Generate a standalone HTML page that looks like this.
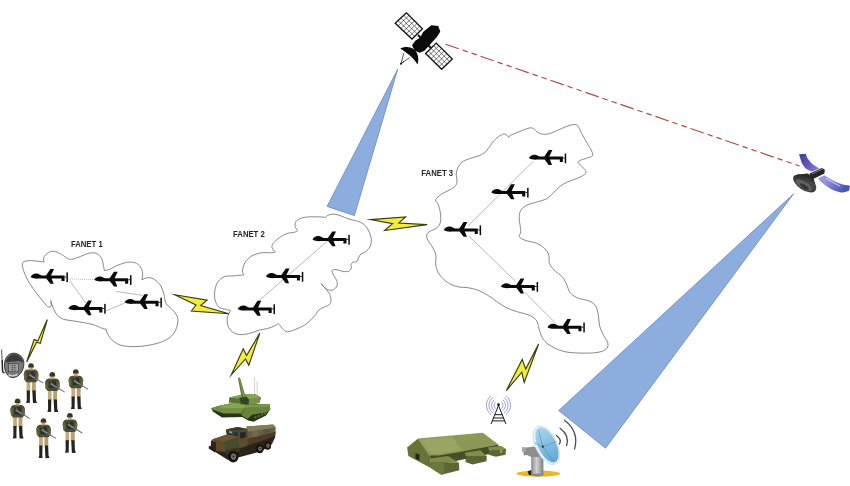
<!DOCTYPE html>
<html><head><meta charset="utf-8"><title>FANET</title>
<style>html,body{margin:0;padding:0;background:#fff}svg{display:block}text{font-family:"Liberation Sans",sans-serif;font-weight:bold;fill:#262626}</style>
</head><body>
<svg width="850" height="486" viewBox="0 0 850 486">
<rect width="850" height="486" fill="#fff"/>
<defs><g id="uav"><path d="M0,0C1,-2.3 3.5,-3.6 6,-3.4C8.5,-3.2 9.5,-1.6 11.2,-1.5L15.4,-1.5L19.8,-8.1L23.5,-8.1L20.4,-1.5L34,-1.5L34,4L30.9,4L30.9,1.5L21,1.5L23.1,6.8L19.8,6.8L15.7,1.5L9,1.5C6,1.9 2,1.6 0,0Z"/><rect x="34" y="-0.4" width="2" height="0.8"/><rect x="35.8" y="-4.6" width="1.5" height="9.8"/></g></defs>

<g fill="#8eaddf" stroke="#6a88ba" stroke-width="0.8"><polygon points="397.7,69.3 327,206.4 354.4,215.6"/><polygon points="793.6,193.8 558.7,410.5 605.5,448.2"/></g>
<line x1="445.5" y1="44.2" x2="799.6" y2="166" stroke="#b04a46" stroke-width="1.2" stroke-dasharray="14 4 5.5 4 5.5 4"/>
<g fill="#fff" stroke="#6a6a6a" stroke-width="0.8">
<path d="M44.2,262.0C44.1,261.2 43.1,259.0 43.8,257.5C44.4,256.0 46.4,253.8 48.1,252.8C49.8,251.8 52.0,251.0 54.2,251.3C56.4,251.6 58.8,253.1 61.4,254.4C64.0,255.7 67.0,258.8 69.7,259.3C72.5,259.8 74.8,258.5 77.9,257.5C81.0,256.5 85.1,254.1 88.2,253.4C91.3,252.7 94.2,252.6 96.4,253.4C98.6,254.2 100.4,256.3 101.6,258.5C102.8,260.7 103.1,264.7 103.6,266.7C104.1,268.7 104.3,270.0 104.5,270.6C105.3,270.4 107.2,270.3 109.4,269.4C111.6,268.5 114.5,266.5 117.6,265.3C120.7,264.1 124.8,262.6 127.9,262.2C131.0,261.8 134.0,262.2 136.2,263.2C138.4,264.2 140.2,266.5 141.3,268.4C142.4,270.3 142.6,272.6 142.7,274.5C142.8,276.4 142.0,278.8 141.9,279.7C143.0,279.4 146.4,277.6 148.5,277.6C150.6,277.6 152.6,278.3 154.7,279.7C156.8,281.1 159.3,283.5 160.8,285.9C162.3,288.3 163.0,291.2 163.9,294.1C164.8,297.0 164.6,300.8 166.0,303.4C167.4,306.0 170.3,307.3 172.2,309.5C174.1,311.7 176.5,314.1 177.3,316.7C178.2,319.3 178.0,322.1 177.3,325.0C176.6,327.9 175.2,331.6 173.2,334.2C171.1,336.8 168.4,338.7 165.0,340.4C161.6,342.1 157.4,343.5 152.6,344.5C147.8,345.5 141.3,346.4 136.2,346.6C131.0,346.8 125.7,346.5 121.7,345.5C117.8,344.5 114.9,342.4 112.5,340.4C110.1,338.3 108.3,335.1 107.3,333.2C106.3,331.3 106.5,329.8 106.3,329.1C105.7,329.0 104.9,329.3 102.6,328.5C100.3,327.7 96.8,325.6 92.3,324.4C87.8,323.2 80.6,322.2 75.8,321.3C71.0,320.4 66.6,320.2 63.5,319.2C60.4,318.2 59.0,317.0 57.3,315.1C55.6,313.2 54.3,310.3 53.2,307.9C52.1,305.5 51.1,301.9 50.7,300.7C50.8,301.6 51.6,304.8 51.2,305.8C50.8,306.8 49.1,307.2 48.1,306.9C47.1,306.6 46.9,306.0 45.0,303.8C43.1,301.6 39.3,296.9 36.7,293.5C34.1,290.1 31.6,286.6 29.5,283.2C27.4,279.8 25.6,275.9 24.4,272.9C23.2,269.9 22.4,266.9 22.3,265.0C22.2,263.1 22.6,262.5 24.0,261.8C25.4,261.1 27.8,260.6 30.6,260.6C33.4,260.6 38.6,261.4 40.9,261.6C43.2,261.8 43.7,261.9 44.2,262.0Z"/>
<path d="M243.8,274.9C243.6,274.2 242.3,272.9 242.5,270.9C242.7,268.9 243.4,265.2 244.9,262.7C246.4,260.2 248.8,257.8 251.5,256.1C254.2,254.5 258.1,253.4 261.4,252.8C264.7,252.2 269.0,252.9 271.3,252.8C273.6,252.7 274.7,252.1 275.4,252.0C274.8,251.3 272.5,249.2 272.1,247.8C271.7,246.4 272.0,245.2 273.0,243.7C274.0,242.2 275.7,240.5 277.9,238.8C280.1,237.2 283.4,234.9 286.1,233.8C288.9,232.7 292.5,232.7 294.4,232.2C296.3,231.7 297.1,231.2 297.7,231.0C297.3,230.2 295.5,228.0 295.2,226.4C294.9,224.8 295.0,222.9 296.0,221.5C297.0,220.1 298.8,219.0 301.0,218.2C303.2,217.4 306.2,217.1 309.2,216.9C312.2,216.7 316.4,216.8 319.1,216.9C321.9,217.0 324.6,217.3 325.7,217.4C326.1,217.0 326.7,215.8 328.1,215.2C329.5,214.6 331.8,214.0 333.9,214.1C336.0,214.2 338.0,214.9 340.5,215.7C343.0,216.5 345.7,218.0 348.7,219.0C351.7,220.0 355.9,220.4 358.6,221.5C361.4,222.6 363.4,223.8 365.2,225.6C367.0,227.4 368.3,229.9 369.3,232.2C370.3,234.5 371.2,237.2 371.3,239.6C371.4,242.0 370.9,244.6 370.0,246.6C369.1,248.6 367.3,250.3 365.8,251.5C364.3,252.7 362.1,252.9 360.9,254.0C359.7,255.1 359.1,256.9 358.4,258.1C357.7,259.3 357.8,260.7 356.8,261.4C355.9,262.1 353.4,262.1 352.7,262.2C352.4,262.6 351.2,263.7 351.0,264.7C350.8,265.7 351.8,266.9 351.4,268.0C351.0,269.1 350.0,270.8 348.6,271.3C347.2,271.9 344.9,271.6 342.8,271.3C340.7,271.0 338.0,269.7 336.2,269.6C334.4,269.5 332.5,269.5 332.1,270.5C331.7,271.5 332.9,273.6 333.7,275.4C334.5,277.2 336.5,279.3 337.0,281.2C337.5,283.1 337.3,285.4 336.5,286.9C335.7,288.4 333.7,289.8 332.1,290.2C330.6,290.6 328.7,290.1 327.2,289.4C325.7,288.7 324.0,287.1 323.0,286.1C322.0,285.1 321.7,284.0 321.4,283.6C321.9,284.3 323.3,285.9 324.7,287.7C326.1,289.5 328.6,292.1 329.6,294.3C330.6,296.5 331.0,299.1 330.9,300.9C330.8,302.7 330.1,303.9 328.8,305.0C327.5,306.1 324.8,306.5 323.0,307.5C321.2,308.5 319.5,309.4 318.1,310.8C316.7,312.2 316.6,313.7 314.5,316.0C312.4,318.3 308.7,322.2 305.6,324.4C302.5,326.6 298.7,328.1 295.7,329.3C292.7,330.5 289.6,331.9 287.4,331.8C285.2,331.7 284.0,329.9 282.5,328.5C281.0,327.1 279.1,324.3 278.4,323.5C277.7,323.9 276.1,325.2 274.3,326.0C272.5,326.8 270.2,327.8 267.7,328.5C265.2,329.2 262.4,329.3 259.4,330.1C256.4,330.9 252.8,332.6 249.5,333.4C246.2,334.1 242.6,334.9 239.7,334.6C236.8,334.3 234.1,333.2 232.2,331.8C230.3,330.4 228.9,328.3 228.1,326.0C227.3,323.7 226.9,320.4 227.3,317.8C227.7,315.2 230.1,311.6 230.6,310.4C229.9,310.2 228.4,310.1 226.5,309.5C224.6,308.9 221.0,308.7 219.1,307.1C217.2,305.5 215.7,302.6 215.0,299.7C214.3,296.8 214.5,292.8 215.0,289.8C215.5,286.8 216.6,283.7 218.2,281.5C219.8,279.3 222.1,277.6 224.8,276.6C227.6,275.7 231.5,276.1 234.7,275.8C237.9,275.5 242.3,275.0 243.8,274.9Z"/>
<path d="M509.0,137.3C509.1,137.0 508.7,136.4 509.8,135.7C510.9,135.0 513.3,134.2 515.6,133.2C517.9,132.2 521.5,130.8 523.8,129.9C526.1,129.0 528.0,128.1 529.6,127.9C531.2,127.7 532.5,127.9 533.7,128.6C534.9,129.3 535.6,131.0 537.0,131.9C538.4,132.8 540.1,133.7 541.9,134.0C543.7,134.3 545.5,134.5 548.0,134.0C550.5,133.5 553.5,132.1 556.6,130.8C559.7,129.5 563.8,127.3 566.8,126.3C569.8,125.2 572.8,124.5 574.7,124.5C576.6,124.5 577.0,124.9 578.1,126.3C579.2,127.7 580.0,130.3 581.5,133.1C583.0,135.9 585.5,140.3 587.2,143.3C588.9,146.3 590.8,149.1 591.7,151.2C592.6,153.3 593.1,154.7 592.4,155.8C591.6,156.9 589.2,157.2 587.2,158.0C585.2,158.8 581.9,159.6 580.4,160.3C578.9,161.1 577.7,161.4 578.1,162.5C578.5,163.6 581.3,165.6 582.6,167.1C583.9,168.6 585.8,170.3 586.0,171.6C586.2,172.9 585.3,173.9 583.8,175.0C582.3,176.1 579.6,177.3 577.0,178.4C574.4,179.5 570.7,180.5 567.9,181.8C565.1,183.1 562.5,184.4 560.0,186.3C557.5,188.2 555.5,191.0 553.2,193.1C550.9,195.2 549.2,197.3 546.4,198.8C543.6,200.3 539.6,201.1 536.2,202.2C532.8,203.3 528.6,204.1 526.0,205.6C523.4,207.1 521.5,209.1 520.4,211.2C519.3,213.3 519.2,215.4 519.2,218.0C519.2,220.6 520.0,224.4 520.3,226.7C520.5,229.0 520.9,230.3 520.7,232.0C520.6,233.7 518.7,235.3 519.4,236.7C520.1,238.1 521.9,239.1 524.8,240.2C527.7,241.3 533.5,242.0 536.8,243.4C540.1,244.8 542.8,246.7 544.8,248.7C546.8,250.7 548.1,253.0 548.9,255.4C549.7,257.9 548.5,260.9 549.4,263.4C550.3,265.8 552.1,267.9 554.2,270.1C556.3,272.3 560.2,274.6 562.2,276.8C564.2,279.0 564.9,280.8 566.2,283.5C567.6,286.2 568.3,290.4 570.3,292.9C572.3,295.3 575.2,296.9 578.3,298.2C581.4,299.5 586.1,299.6 589.0,300.9C591.9,302.2 594.1,303.8 595.7,306.2C597.3,308.6 597.7,312.2 598.4,315.6C599.1,319.0 598.8,323.0 599.7,326.3C600.6,329.6 602.4,333.0 603.7,335.7C605.0,338.4 607.2,340.2 607.7,342.4C608.2,344.6 608.2,347.3 606.4,349.0C604.6,350.7 601.2,351.8 597.0,352.5C592.8,353.2 586.4,353.2 581.0,353.1C575.6,353.0 569.8,352.8 564.9,351.7C560.0,350.6 555.1,348.4 551.5,346.4C547.9,344.4 545.5,342.4 543.5,339.7C541.5,337.0 540.6,333.4 539.5,330.3C538.4,327.2 538.4,323.4 536.8,321.0C535.2,318.6 533.4,317.2 530.1,315.6C526.8,314.0 520.8,312.9 516.8,311.6C512.8,310.3 509.5,309.3 506.1,307.6C502.8,305.9 499.3,303.3 496.7,301.5C494.1,299.7 492.5,298.3 490.5,297.0C488.5,295.7 486.6,294.6 484.5,293.5C482.4,292.4 480.3,291.1 477.7,290.1C475.1,289.2 472.1,288.4 468.7,287.8C465.3,287.2 461.0,287.6 457.4,286.7C453.8,285.8 450.2,284.3 447.2,282.2C444.2,280.1 441.1,277.0 439.2,274.2C437.3,271.4 436.4,268.4 435.8,265.2C435.2,262.0 436.4,258.0 435.8,255.0C435.2,252.0 433.8,249.5 432.5,247.1C431.2,244.7 428.8,242.4 427.9,240.3C426.9,238.2 426.4,236.1 426.8,234.6C427.2,233.1 428.5,232.3 430.2,231.2C431.9,230.1 435.3,229.3 437.0,227.8C438.7,226.3 439.8,224.6 440.4,222.2C441.0,219.8 440.8,216.1 440.4,213.1C440.0,210.1 438.9,206.3 438.1,204.1C437.3,201.9 435.1,201.7 435.7,200.0C436.2,198.3 439.1,195.8 441.4,194.1C443.7,192.4 447.4,191.4 449.7,190.0C452.0,188.6 454.2,187.4 455.4,185.9C456.6,184.4 457.0,182.9 457.1,181.0C457.2,179.1 456.1,176.6 456.2,174.4C456.3,172.2 456.9,169.9 457.9,167.8C458.9,165.7 460.1,163.5 462.0,162.0C463.9,160.5 466.8,159.7 469.4,158.7C472.0,157.7 475.2,157.1 477.7,156.2C480.2,155.2 482.4,154.5 484.3,153.0C486.2,151.5 487.6,149.3 489.2,147.2C490.8,145.1 492.3,142.5 494.1,140.6C495.9,138.7 498.1,136.8 499.9,135.7C501.7,134.6 503.3,133.7 504.8,134.0C506.3,134.3 508.3,136.8 509.0,137.3Z"/>
</g>
<g stroke="#8a8a8a" stroke-width="0.6" fill="none">
<line x1="67.9" y1="278.9" x2="94.2" y2="279.6" stroke-dasharray="1 1"/>
<line x1="70" y1="281" x2="85.9" y2="303.1"/>
<line x1="106" y1="310.9" x2="124.7" y2="303.1"/>
<line x1="116.3" y1="291.5" x2="142.8" y2="295.4"/>
<line x1="257.5" y1="302" x2="327.5" y2="241"/>
<line x1="468" y1="226" x2="533" y2="161.5"/>
<line x1="468.7" y1="235.8" x2="515.1" y2="281"/>
<line x1="525" y1="292.5" x2="555.8" y2="323.4"/>
</g>
<g fill="#0a0a0a">
<use href="#uav" x="30.6" y="277"/>
<use href="#uav" x="94.2" y="279.8"/>
<use href="#uav" x="68.4" y="308.5"/>
<use href="#uav" x="124.6" y="302.3"/>
<use href="#uav" x="312.5" y="239.5"/>
<use href="#uav" x="266" y="276.5"/>
<use href="#uav" x="237.7" y="308.9"/>
<use href="#uav" x="528.9" y="158.1"/>
<use href="#uav" x="491.3" y="192.4"/>
<use href="#uav" x="443.8" y="230"/>
<use href="#uav" x="500.8" y="286.6"/>
<use href="#uav" x="547.5" y="327.2"/>
</g>
<g fill="#f3ec3e" stroke="#3a3a0e" stroke-width="1.15" stroke-linejoin="miter" stroke-miterlimit="8">
<polygon points="47.3,319.6 40.3,343.3 36.6,342.3 26.7,361.9 34.1,339.6 37.8,340.9"/>
<polygon points="174.7,294.8 207.1,300.2 200.6,305.5 228.9,313.8 191.4,311.0 196.0,305.0"/>
<polygon points="370.4,219.6 405.6,216.9 398.8,223.1 427.2,224.6 384.6,230.5 392.6,223.6"/>
<polygon points="259.8,333.1 248.8,365.2 245.5,358.9 231.3,374.8 243.2,348.8 246.6,355.5"/>
<polygon points="538.6,344.0 524.2,382.5 521.8,372.2 506.3,390.7 522.2,359.4 525.7,369.1"/>
</g>
<filter id="gs" x="-5%" y="-5%" width="110%" height="110%"><feColorMatrix type="saturate" values="0"/></filter><g filter="url(#gs)">
<text x="70.9" y="246.6" font-size="8.2" textLength="31.8" lengthAdjust="spacingAndGlyphs">FANET 1</text>
<text x="233" y="237.1" font-size="8.2" textLength="31.8" lengthAdjust="spacingAndGlyphs">FANET 2</text>
<text x="421.3" y="175.5" font-size="8.2" textLength="31.8" lengthAdjust="spacingAndGlyphs">FANET 3</text></g>
<g id="sat1">
<line x1="418" y1="35" x2="431" y2="48" stroke="#111" stroke-width="2"/>
<polygon points="406.5,12.8 395.2,23.2 412.0,39.0 422.4,28.7" fill="#fff" stroke="#111" stroke-width="1.3" stroke-linejoin="miter"/><g stroke="#111" stroke-width="0.55"><line x1="403.7" y1="15.4" x2="419.8" y2="31.3"/><line x1="400.9" y1="18.0" x2="417.2" y2="33.9"/><line x1="398.0" y1="20.6" x2="414.6" y2="36.4"/><line x1="409.1" y1="15.4" x2="398.0" y2="25.8"/><line x1="411.8" y1="18.1" x2="400.8" y2="28.5"/><line x1="414.4" y1="20.8" x2="403.6" y2="31.1"/><line x1="417.1" y1="23.4" x2="406.4" y2="33.7"/><line x1="419.8" y1="26.1" x2="409.2" y2="36.4"/></g>
<polygon points="436.2,43.1 425.6,53.5 441.7,69.3 452.3,59.0" fill="#fff" stroke="#111" stroke-width="1.3" stroke-linejoin="miter"/><g stroke="#111" stroke-width="0.55"><line x1="433.6" y1="45.7" x2="449.6" y2="61.6"/><line x1="430.9" y1="48.3" x2="447.0" y2="64.2"/><line x1="428.2" y1="50.9" x2="444.4" y2="66.7"/><line x1="438.9" y1="45.8" x2="428.3" y2="56.1"/><line x1="441.6" y1="48.4" x2="431.0" y2="58.8"/><line x1="444.2" y1="51.0" x2="433.6" y2="61.4"/><line x1="446.9" y1="53.7" x2="436.3" y2="64.0"/><line x1="449.6" y1="56.4" x2="439.0" y2="66.7"/></g>
<polygon fill="#0b0b0b" points="423.1,32.1 431.3,25.2 438.2,25.9 440.3,31.4 436.9,36.9 430.0,44.5 424.4,50.7 419.6,52.8 414.8,50.7 412.0,45.2 415.5,40.4 420.3,37.6"/>
<path fill="#0b0b0b" d="M400.3,48.6C405,46 411.5,46.8 415,50.3C418.6,54 419,60 417.6,64.5C415.5,61 412.5,57.8 409.6,55.3C406.6,52.8 403.5,50.5 400.3,48.6Z"/>
<path stroke="#111" stroke-width="0.7" fill="none" d="M401,63.8L403.8,53M401,63.8L409.5,57.6M401,63.8L404,61"/><circle cx="401" cy="63.8" r="1" fill="#111"/>
</g>
<defs><linearGradient id="pg1" x1="0" y1="0" x2="1" y2="1"><stop offset="0" stop-color="#3a3f9c"/><stop offset="0.6" stop-color="#6a5cc0"/><stop offset="1" stop-color="#9a80d8"/></linearGradient><linearGradient id="pg2" x1="0" y1="0" x2="1" y2="0.4"><stop offset="0" stop-color="#b0a6e6"/><stop offset="0.45" stop-color="#8b86d6"/><stop offset="1" stop-color="#4656b4"/></linearGradient>
<linearGradient id="dg" x1="0" y1="0" x2="1" y2="1"><stop offset="0" stop-color="#1e1e1e"/><stop offset="0.5" stop-color="#4a4a4a"/><stop offset="1" stop-color="#2a2a2a"/></linearGradient></defs>
<g id="sat2">
<path fill="url(#pg1)" d="M799,154.3L805.8,153.7C806.3,156 807,157.8 808.3,159.3C809.8,161.5 811.3,163.3 813.2,164.8L819.4,168.5L812,171.6C809.6,170.9 807.6,169.9 805.8,168.5C804,166.7 802.5,164.6 801.5,162.3Z"/>
<path fill="url(#pg2)" d="M817.5,178.4L824.3,175.3C827.5,177.3 830.8,179.2 834.2,180.9C837,182.3 839.8,183.6 842.8,184.6L850,185.8L849,190.7C846.4,191.6 843.8,192.4 841,192.6C837.8,191.8 834.7,190.8 831.7,189.5C828.2,187.5 825,185.2 821.9,182.7Z"/>
<path d="M826,178.2L840,186.2" stroke="#e8e4fa" stroke-width="1.1" opacity="0.7" fill="none"/>
<polygon fill="#2b2b2b" points="797.0,174.5 808.0,173.6 813.5,178.5 816.5,188.0"/>
<g transform="rotate(33 804.6 183.4)"><ellipse cx="804.6" cy="183.4" rx="13" ry="6.6" fill="url(#dg)"/><ellipse cx="805.2" cy="185.2" rx="9.5" ry="3.6" fill="#777" opacity="0.55"/><ellipse cx="806" cy="186.2" rx="5" ry="1.8" fill="#222" opacity="0.7"/></g>
<polygon fill="#262626" points="809.5,173.5 821.9,167.9 824.9,169.8 824.3,173.5 813.2,179.0 810.1,177.2"/>
<line x1="811.5" y1="174" x2="822.5" y2="169" stroke="#8c8c8c" stroke-width="0.9"/>
</g>
<defs><g id="sol">
<rect x="-4.4" y="18" width="3.7" height="10" fill="#c2ab7c"/><rect x="0.9" y="18" width="3.9" height="10" fill="#b8a070"/>
<path d="M-4.3,27.3L-1,27.3L-1.2,37.5L-1,39.6L-4.9,39.8L-4.2,37Z" fill="#24241c"/><path d="M1.3,27.3L4.7,27.3L5,37L6,39.8L2,39.9L1.8,37Z" fill="#24241c"/>
<path d="M-3.6,6.4L3.8,6.4C6,6.8 7.3,8.6 7.4,11L7,16.5L5,19L-4.6,19L-6.6,16.5L-7.2,11C-7.2,8.6 -5.8,6.8 -3.6,6.4Z" fill="#4c4e31"/>
<path d="M-3,8.5L3.4,8.5L3.8,16L-3.2,16Z" fill="#2e3020"/>
<path d="M-7.2,11L-5,9L-4.6,16L-6.6,16.5Z" fill="#646840"/><path d="M7.4,11L5.2,9L5,16.5L7,16.5Z" fill="#646840"/>
<path d="M-3.4,7L-2.2,7L2.6,15L1.4,15Z" fill="#6b5a3c"/>
<path d="M-1.5,10.8L4.5,14.3L3.7,15.7L-2.3,12.2Z" fill="#7c83b0"/><path d="M4,14.2L12.6,19.6L12.1,20.4L3.6,15.4Z" fill="#6a6f80"/>
<rect x="-1.8" y="3.6" width="3.6" height="3.4" fill="#c79e7c"/>
<path d="M-2.8,3.2C-3,1 -1.6,0 0,0C1.6,0 3,1 2.8,3.2L2.9,4.3L-2.9,4.3Z" fill="#353b23"/>
</g></defs>
<use href="#sol" x="31" y="363.2"/>
<use href="#sol" x="52.3" y="372.1"/>
<use href="#sol" x="75.8" y="369.3"/>
<use href="#sol" x="17.6" y="398.6"/>
<use href="#sol" x="43.5" y="418.3"/>
<use href="#sol" x="69.9" y="413"/>
<g id="radio"><path d="M1.6,349.5L2.1,360" stroke="#222" stroke-width="0.8" fill="none"/><path d="M2.1,360L2.6,371C2.8,372.4 3.6,372.8 4.6,372.4" stroke="#222" stroke-width="1.5" fill="none"/>
<path d="M4.5,365C4.5,357 9,353 14,353.2C20,353.5 24,358 23.9,363.5C23.8,370 20,377 13,377.6C8,377.8 4.5,372 4.5,365Z" fill="#7a7a7a" stroke="#2a2a2a" stroke-width="0.9"/>
<path d="M5.6,362.5C7,356.5 11,354 14.5,354.2C19,354.5 22.5,358 22.9,363L19,361L9,362Z" fill="#3a3a3a"/>
<rect x="8.6" y="363.6" width="10" height="8.2" fill="#a4a4a4" stroke="#303030" stroke-width="0.6"/>
<path d="M10.5,365.5h6M10.5,367.7h6M10.5,369.8h6M12.3,364.2v7M14.8,364.2v7" stroke="#4a4a4a" stroke-width="0.5" fill="none"/>
<path d="M8.5,374.6C11,376.2 15,376.2 17.5,374.4" stroke="#dcdcdc" stroke-width="1.4" fill="none"/></g>
<g id="tank">
<line x1="254.3" y1="377" x2="254.6" y2="394" stroke="#8a8a8a" stroke-width="0.4"/><line x1="257" y1="381" x2="257.2" y2="395" stroke="#8a8a8a" stroke-width="0.4"/>
<polygon fill="#283416" points="211.2,408.2 218.6,405.9 230.0,403.5 269.5,404.2 270.3,409.3 266.1,415.6 253.6,421.8 248.0,420.6 242.3,416.9 222.0,417.4 212.9,411.6"/>
<polygon fill="#718f42" points="211.2,408.2 218.6,405.9 230.0,403.5 246.0,404.5 243.5,410.5 241.0,413.4 223.5,413.6 213.8,410.0"/>
<polygon fill="#86a552" points="218.6,405.9 230.0,403.5 246.0,404.5 244.5,408.0 222.0,408.3"/>
<polygon fill="#66853c" points="246.0,404.5 269.5,404.2 270.3,409.3 267.5,412.0 252.0,414.8 247.5,419.0 243.0,416.2 241.0,414.3 243.5,411.0"/>
<polygon fill="#7b9a4a" points="246.0,404.5 269.5,404.2 269.8,406.3 248.0,407.6 244.5,408.0"/>
<circle cx="255.5" cy="417.3" r="1.3" fill="#55683a"/>
<circle cx="258.8" cy="416" r="1.3" fill="#55683a"/>
<circle cx="262" cy="414.6" r="1.3" fill="#55683a"/>
<circle cx="265" cy="413.2" r="1.3" fill="#55683a"/>
<polygon fill="#587534" points="229.3,397.5 242.3,394.6 254.8,394.1 261.0,397.5 259.3,403.1 248.6,404.8 238.9,403.7 228.8,402.5"/>
<polygon fill="#87a554" points="229.3,397.5 242.3,394.6 254.8,394.1 261.0,397.5 249.5,399.3 238.5,398.6"/>
<polygon fill="#74924a" points="249.5,399.3 261.0,397.5 259.3,403.1 248.6,404.8"/>
<polygon fill="#34461d" points="239.2,397.8 246.3,396.4 248.8,399.2 248.6,404.6 241.0,403.8"/>
<polygon fill="#5a7636" points="237.9,378.0 240.0,377.5 245.4,396.3 241.6,397.4"/>
<polygon fill="#7b9a4a" points="238.6,377.9 239.6,377.7 244.6,396.5 243.2,396.9"/>
</g>
<g id="truck">
<polygon fill="#2a2419" points="209.0,446.7 214.0,444.0 246.0,440.0 275.5,431.0 275.2,437.0 272.0,444.0 262.0,451.0 240.0,457.0 228.0,460.0 214.9,451.8"/>
<polygon fill="#665d42" points="246.5,426.6 273.2,424.4 275.7,427.4 275.2,434.8 272.2,436.8 260.3,441.2 247.2,445.0"/>
<polygon fill="#857c5c" points="246.5,426.6 273.2,424.4 275.7,427.4 262.0,429.8 247.5,431.6"/>
<polygon fill="#4b3b28" points="247.3,438.5 275.3,432.0 275.2,434.8 272.2,436.8 260.3,441.2 247.2,445.0"/>
<polygon fill="#73694a" points="252.0,431.2 258.0,430.4 258.5,436.2 252.5,437.4"/>
<polygon fill="#59573a" points="263.0,429.8 269.0,428.8 269.3,433.6 263.5,435.0"/>
<polygon fill="#4d4a30" points="225.8,429.4 237.6,426.9 247.5,428.9 247.6,446.0 239.0,448.5 237.5,437.0 226.5,435.0"/>
<polygon fill="#3a3a28" points="225.8,429.4 237.6,426.9 247.5,428.9 238.0,430.8"/>
<polygon fill="#5b4c30" points="238.6,431.5 247.0,430.0 247.3,445.5 239.0,448.0"/>
<polygon fill="#22262a" points="240.0,432.6 245.8,431.4 245.8,437.2 240.2,438.5"/>
<polygon fill="#2d3236" points="227.2,430.6 232.6,431.4 232.8,435.6 227.6,434.8"/><polygon fill="#2d3236" points="233.8,431.6 238.0,432.2 238.2,436.6 234.0,435.9"/>
<polygon fill="#9aa3a8" points="229.0,431.0 231.8,431.5 231.9,433.5 229.2,433.0"/>
<polygon fill="#5e4b2c" points="212.4,439.3 226.2,434.8 238.5,437.0 239.0,448.5 228.0,452.5 216.0,451.0 211.0,447.5"/>
<polygon fill="#6f5632" points="212.4,439.3 226.2,434.8 238.5,437.0 224.0,441.8"/>
<polygon fill="#4a4a2c" points="224.0,441.8 238.5,437.0 239.0,448.5 226.0,452.8"/>
<polygon fill="#2b2418" points="210.9,440.2 215.9,442.5 216.0,451.0 211.0,447.8"/>
<polygon fill="#1d1912" points="208.8,446.0 215.2,450.0 215.0,452.6 208.8,448.6"/>
<polygon fill="#3a3322" points="225.5,450.5 238.5,447.2 240.5,451.0 226.0,455.0"/>
<ellipse cx="233.2" cy="456.6" rx="5.3" ry="5.9" fill="#17140f"/><ellipse cx="233.5" cy="456.6" rx="2.6" ry="3.1" fill="#7d766a"/><ellipse cx="233.5" cy="456.6" rx="1.1" ry="1.3" fill="#3a352c"/>
<ellipse cx="259.8" cy="448.7" rx="3.9" ry="4.5" fill="#17140f"/><ellipse cx="260.1" cy="448.7" rx="1.9" ry="2.3" fill="#7d766a"/><ellipse cx="260.1" cy="448.7" rx="0.8" ry="1.0" fill="#3a352c"/>
<ellipse cx="267.7" cy="445.7" rx="3.4" ry="4.1" fill="#17140f"/><ellipse cx="268.0" cy="445.7" rx="1.7" ry="2.1" fill="#7d766a"/><ellipse cx="268.0" cy="445.7" rx="0.7" ry="0.9" fill="#3a352c"/>
</g>
<g id="tent">
<polygon fill="#454f25" points="429.8,455.0 498.4,444.4 499.0,452.0 431.5,466.0"/>
<polygon fill="#65723a" points="407.1,447.6 418.1,438.6 429.8,455.4 431.7,468.4 408.4,456.1"/>
<polygon fill="#202611" points="415.5,453.0 419.4,454.5 419.4,460.5 415.5,458.6"/>
<polygon fill="#8c9856" points="418.1,438.6 482.8,432.8 498.4,444.4 489.3,446.4 472.5,449.6 458.2,452.2 438.8,455.4 429.8,455.4"/>
<polygon fill="#9aa565" points="421.0,439.6 452.0,436.7 462.0,450.3 436.0,454.2 430.5,453.5"/>
<polygon fill="#7f8c4a" points="430.3,458.6 447.9,456.1 458.9,462.5 431.0,462.8"/>
<polygon fill="#5b6832" points="431.0,462.5 458.9,462.5 459.3,470.3 441.4,474.8 431.5,468.6"/>
<polygon fill="#6c793c" points="431.0,462.5 444.0,462.6 444.5,473.8 441.4,474.8 431.5,468.6"/>
<polygon fill="#808d4b" points="464.7,452.8 480.2,450.2 486.7,456.1 466.0,456.1"/>
<polygon fill="#59662f" points="466.0,456.1 486.7,456.1 486.5,461.2 472.5,464.5 465.4,461.9"/>
<polygon fill="#7d8a48" points="488.0,447.6 500.9,445.7 506.1,448.9 489.3,450.9"/>
<polygon fill="#5a672f" points="489.3,450.9 506.1,448.9 505.5,454.8 495.8,456.7 488.7,454.8"/>
<rect x="500" y="450.5" width="2.2" height="2.2" fill="#a8ad86"/>
</g>
<g id="tower" fill="none">
<g stroke="#8f8acb" stroke-width="0.85">
<path d="M495.6,401.8A4.5,4.5 0 0 0 495.6,408.6"/><path d="M501.4,401.8A4.5,4.5 0 0 1 501.4,408.6"/>
<path d="M494.2,399.7A7,7 0 0 0 494.2,410.7"/><path d="M502.8,399.7A7,7 0 0 1 502.8,410.7"/>
<path d="M492.9,397.5A9.5,9.5 0 0 0 492.9,412.9"/><path d="M504.1,397.5A9.5,9.5 0 0 1 504.1,412.9"/>
<path d="M491.1,395.7A12,12 0 0 0 491.1,414.7"/><path d="M505.9,395.7A12,12 0 0 1 505.9,414.7"/>
</g>
<g stroke="#1c1c1c" stroke-width="1" stroke-linecap="round"><path d="M498.5,405.5L491.2,423.6M498.5,405.5L505.8,423.6M494.9,414.7L502.1,414.7M493.6,418L503.4,418M492.4,420.9L504.6,420.9"/></g><circle cx="498.5" cy="404.7" r="1.35" fill="#151515"/>
</g>
<defs><linearGradient id="dsh" x1="0" y1="0" x2="1" y2="0"><stop offset="0" stop-color="#a9d6ee"/><stop offset="1" stop-color="#5fa7d4"/></linearGradient>
<linearGradient id="ped" x1="0" y1="0" x2="1" y2="0"><stop offset="0" stop-color="#8a8a8a"/><stop offset="0.45" stop-color="#d2d2d2"/><stop offset="1" stop-color="#7c7c7c"/></linearGradient></defs>
<g id="dish">
<ellipse cx="538.3" cy="473.6" rx="22" ry="3.1" fill="#f0b323"/>
<rect x="531.2" y="455" width="12.2" height="20" fill="url(#ped)"/><ellipse cx="537.3" cy="475" rx="6.1" ry="1.4" fill="#8a8a8a"/>
<polygon fill="#8e8e8e" points="522.5,448.0 534.0,446.5 541.0,451.0 543.5,457.0 531.2,457.0 527.0,455.0 524.0,455.5"/>
<rect x="522" y="447.2" width="3.6" height="4.6" fill="#a8a8a8"/><polygon points="527.5,471.5 531.2,470 531.2,475 529,475" fill="#222"/>
<g transform="rotate(64.4 546.3 445.2)"><ellipse cx="546.3" cy="445.2" rx="20.8" ry="10.8" fill="#e3f1f8" stroke="#b9cfdc" stroke-width="0.5"/><ellipse cx="546.3" cy="444.4" rx="19" ry="9" fill="url(#dsh)"/></g>
<path d="M542.8,446.7L538.5,430M542.8,446.7L553,461M542.8,446.7L556,441.5M542.8,446.7L534.5,443" stroke="#5b88a6" stroke-width="0.6" fill="none"/><circle cx="542.8" cy="446.7" r="1.1" fill="#1a2a3a"/>
<g stroke="#4c4c4c" stroke-width="1.3" fill="none" stroke-linecap="round"><path d="M556.5,435.4Q562.2,439.7 559.4,444"/><path d="M560.1,428.2Q569.8,435.4 566.6,445.5"/><path d="M564.5,420.3Q579.5,431.7 574.5,449.1"/></g>
</g>
</svg></body></html>
